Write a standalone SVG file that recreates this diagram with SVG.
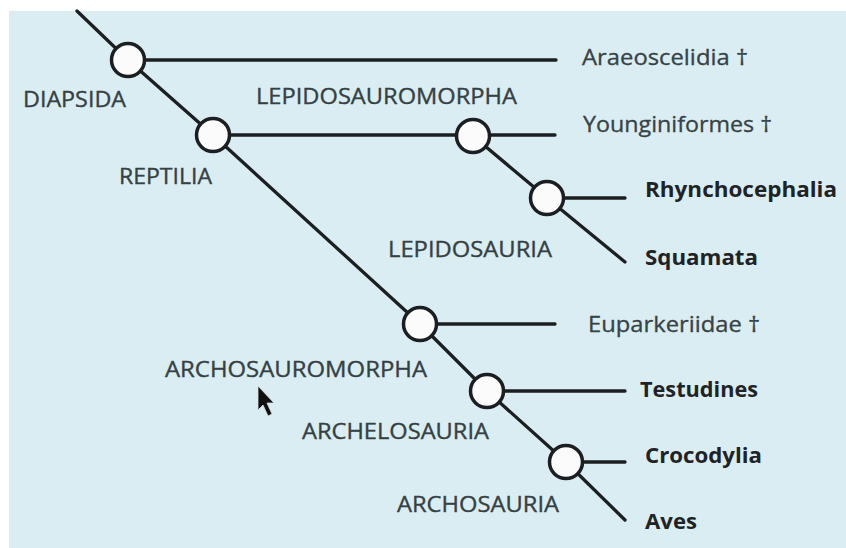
<svg xmlns="http://www.w3.org/2000/svg" width="846" height="548" viewBox="0 0 846 548">
<style>
.ln{stroke:#1c1f21;stroke-width:3.3;fill:none;stroke-linecap:round}
.nd{fill:#fbfbfb;stroke:#1c1f21;stroke-width:3.5}
.cl{font-family:"Open Sans","Liberation Sans",sans-serif;font-size:22px;fill:#354044;stroke:#354044;stroke-width:0.35}
.tx{font-family:"Open Sans","Liberation Sans",sans-serif;font-size:21px;fill:#374246;stroke:#374246;stroke-width:0.3}
.bd{font-family:"Open Sans","Liberation Sans",sans-serif;font-size:21px;font-weight:bold;fill:#1f2326}
</style>
<rect x="0" y="0" width="846" height="548" fill="#ffffff"/>
<rect x="9" y="11" width="837" height="537" fill="#daedf2"/>
<g id="connectors">
<polyline class="ln" points="77,11 128,60 213,135 420,324 487,391 566,462 625,520"/>
<line class="ln" x1="128" y1="60" x2="556" y2="60"/>
<line class="ln" x1="213" y1="135" x2="555" y2="135"/>
<polyline class="ln" points="473,136 547,198 625,262"/>
<line class="ln" x1="547" y1="198" x2="625" y2="198"/>
<line class="ln" x1="420" y1="324" x2="555" y2="324"/>
<line class="ln" x1="487" y1="391" x2="625" y2="391"/>
<line class="ln" x1="566" y1="462" x2="625" y2="462"/>
</g>
<g id="diapsida"><circle class="nd" cx="128" cy="60" r="16.5"/><text class="cl" x="23" y="107" textLength="103" lengthAdjust="spacingAndGlyphs">DIAPSIDA</text></g>
<g id="reptilia"><circle class="nd" cx="213" cy="135" r="16.5"/><text class="cl" x="119" y="184" textLength="93" lengthAdjust="spacingAndGlyphs">REPTILIA</text></g>
<g id="lepidosauromorpha"><circle class="nd" cx="473" cy="136" r="16.5"/><text class="cl" x="256" y="104" textLength="261" lengthAdjust="spacingAndGlyphs">LEPIDOSAUROMORPHA</text></g>
<g id="lepidosauria"><circle class="nd" cx="547" cy="198" r="16.5"/><text class="cl" x="388" y="257" textLength="164" lengthAdjust="spacingAndGlyphs">LEPIDOSAURIA</text></g>
<g id="archosauromorpha"><circle class="nd" cx="420" cy="324" r="16.5"/><text class="cl" x="165" y="377" textLength="262" lengthAdjust="spacingAndGlyphs">ARCHOSAUROMORPHA</text></g>
<g id="archelosauria"><circle class="nd" cx="487" cy="391" r="16.5"/><text class="cl" x="302" y="439" textLength="187" lengthAdjust="spacingAndGlyphs">ARCHELOSAURIA</text></g>
<g id="archosauria"><circle class="nd" cx="566" cy="462" r="16.5"/><text class="cl" x="397" y="512" textLength="162" lengthAdjust="spacingAndGlyphs">ARCHOSAURIA</text></g>
<g id="araeoscelidia"><text class="tx" x="582" y="65" textLength="166" lengthAdjust="spacingAndGlyphs">Araeoscelidia †</text></g>
<g id="younginiformes"><text class="tx" x="583" y="132" textLength="189" lengthAdjust="spacingAndGlyphs">Younginiformes †</text></g>
<g id="rhynchocephalia"><text class="bd" x="645" y="197" textLength="192" lengthAdjust="spacingAndGlyphs">Rhynchocephalia</text></g>
<g id="squamata"><text class="bd" x="645" y="265" textLength="113" lengthAdjust="spacingAndGlyphs">Squamata</text></g>
<g id="euparkeriidae"><text class="tx" x="588" y="332" textLength="172" lengthAdjust="spacingAndGlyphs">Euparkeriidae †</text></g>
<g id="testudines"><text class="bd" x="640" y="397" textLength="118" lengthAdjust="spacingAndGlyphs">Testudines</text></g>
<g id="crocodylia"><text class="bd" x="645" y="463" textLength="117" lengthAdjust="spacingAndGlyphs">Crocodylia</text></g>
<g id="aves"><text class="bd" x="645" y="529" textLength="52" lengthAdjust="spacingAndGlyphs">Aves</text></g>
<polygon points="258,386 258,410 263,405 268,416 272,414 267,403 274,403" fill="#111" stroke="#ddd" stroke-width="0.8"/>
</svg>
